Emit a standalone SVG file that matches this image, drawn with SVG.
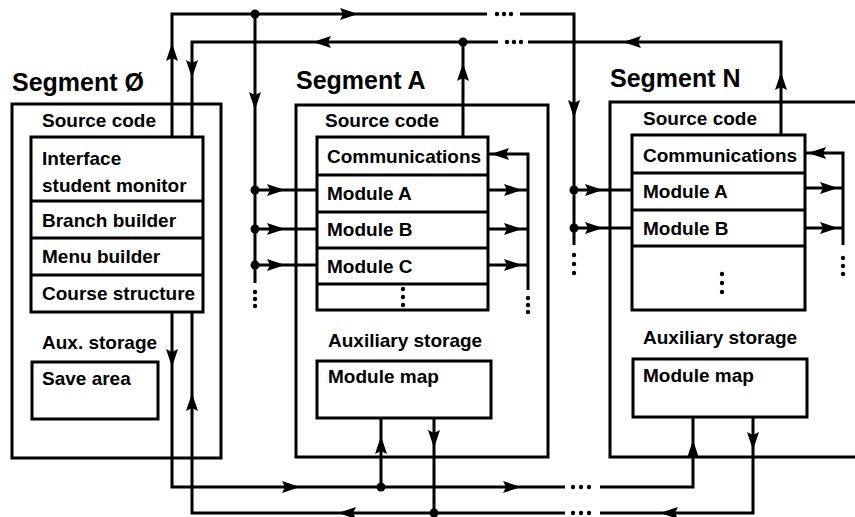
<svg xmlns="http://www.w3.org/2000/svg" xmlns:xlink="http://www.w3.org/1999/xlink" width="855" height="517" viewBox="0 0 855 517">
<style>
  .box{fill:#fff;stroke:#000;stroke-width:3}
  .frame{fill:none;stroke:#000;stroke-width:3}
  .ln{fill:none;stroke:#000;stroke-width:3}
  .t{font-family:"Liberation Sans",Arial,sans-serif;font-weight:bold;font-size:19px;fill:#000}
  .h{font-family:"Liberation Sans",Arial,sans-serif;font-weight:bold;font-size:25px;fill:#000}
</style>
<defs>
  <path id="ah" d="M0,0 L-18,-6 L-15,0 L-18,6 Z" fill="#000"/>
  <circle id="jd" r="4.5" fill="#000"/>
  <circle id="sd" r="2.2" fill="#000"/>
</defs>
<rect width="855" height="517" fill="#fff"/>

<g id="segment0">
  <rect class="frame" x="12" y="104" width="209" height="354"/>
  <text class="h" x="12" y="91">Segment Ø</text>
  <text class="t" x="42" y="127">Source code</text>
  <rect class="box" x="31" y="137" width="172" height="175"/>
  <path class="ln" d="M31,201 H203 M31,238 H203 M31,275 H203"/>
  <text class="t" x="42" y="165">Interface</text>
  <text class="t" x="42" y="192">student monitor</text>
  <text class="t" x="42" y="227">Branch builder</text>
  <text class="t" x="42" y="263">Menu builder</text>
  <text class="t" x="42" y="300">Course structure</text>
  <text class="t" x="42" y="349">Aux. storage</text>
  <g id="save-area">
    <rect class="box" x="32" y="362" width="126" height="57"/>
    <text class="t" x="42" y="385">Save area</text>
  </g>
</g>

<g id="segmentA">
  <rect class="frame" x="296" y="105" width="252" height="352"/>
  <text class="h" x="296" y="89">Segment A</text>
  <text class="t" x="325" y="127">Source code</text>
  <rect class="box" x="317" y="137" width="171" height="173"/>
  <path class="ln" d="M317,175 H488 M317,212 H488 M317,248 H488 M317,284 H488"/>
  <text class="t" x="327" y="163">Communications</text>
  <text class="t" x="327" y="200">Module A</text>
  <text class="t" x="327" y="236">Module B</text>
  <text class="t" x="327" y="273">Module C</text>
  <use href="#sd" x="403" y="289"/><use href="#sd" x="403" y="297"/><use href="#sd" x="403" y="305"/>
  <text class="t" x="328" y="347">Auxiliary storage</text>
  <g id="modmapA">
    <rect class="box" x="317" y="361" width="174" height="57"/>
    <text class="t" x="328" y="383">Module map</text>
  </g>
</g>

<g id="segmentN">
  <path class="frame" d="M855,102 H610 V457 H855"/>
  <text class="h" x="610" y="87">Segment N</text>
  <text class="t" x="643" y="125">Source code</text>
  <rect class="box" x="632" y="135" width="173" height="175"/>
  <path class="ln" d="M632,173 H805 M632,210 H805 M632,246 H805"/>
  <text class="t" x="643" y="162">Communications</text>
  <text class="t" x="643" y="198">Module A</text>
  <text class="t" x="643" y="235">Module B</text>
  <use href="#sd" x="722" y="274"/><use href="#sd" x="722" y="283"/><use href="#sd" x="722" y="292"/>
  <text class="t" x="643" y="344">Auxiliary storage</text>
  <g id="modmapN">
    <rect class="box" x="633" y="359" width="174" height="58"/>
    <text class="t" x="643" y="382">Module map</text>
  </g>
</g>

<g id="connectors">
  <path class="ln" d="M172,137 V14 H487 M520,14 H574 V245"/>
  <use href="#sd" x="497" y="14"/><use href="#sd" x="504" y="14"/><use href="#sd" x="511" y="14"/>
  <use href="#ah" transform="translate(172,43) rotate(-90)"/>
  <use href="#ah" transform="translate(358,14)"/>
  <use href="#ah" transform="translate(574,118) rotate(90)"/>
  <use href="#jd" x="255" y="14"/>

  <path class="ln" d="M192,137 V42 H498 M528,42 H781 V135"/>
  <use href="#sd" x="507" y="42"/><use href="#sd" x="514" y="42"/><use href="#sd" x="521" y="42"/>
  <use href="#ah" transform="translate(192,78) rotate(90)"/>
  <use href="#ah" transform="translate(313,42) rotate(180)"/>
  <use href="#ah" transform="translate(623,42) rotate(180)"/>
  <use href="#ah" transform="translate(781,72) rotate(-90)"/>
  <path class="ln" d="M463,137 V42"/>
  <use href="#ah" transform="translate(463,63) rotate(-90)"/>
  <use href="#jd" x="463" y="42"/>

  <path class="ln" d="M255,14 V283 M255,190 H317 M255,229 H317 M255,265 H317"/>
  <use href="#ah" transform="translate(255,110) rotate(90)"/>
  <use href="#jd" x="255" y="190"/><use href="#jd" x="255" y="229"/><use href="#jd" x="255" y="265"/>
  <use href="#ah" transform="translate(285,190)"/>
  <use href="#ah" transform="translate(285,229)"/>
  <use href="#ah" transform="translate(285,265)"/>
  <use href="#sd" x="255" y="292"/><use href="#sd" x="255" y="299"/><use href="#sd" x="255" y="306"/>

  <path class="ln" d="M488,154 H528 V290 M488,190 H528 M488,229 H528 M488,265 H528"/>
  <use href="#ah" transform="translate(491,154) rotate(180)"/>
  <use href="#ah" transform="translate(522,190)"/>
  <use href="#ah" transform="translate(522,229)"/>
  <use href="#ah" transform="translate(522,265)"/>
  <use href="#sd" x="528" y="298"/><use href="#sd" x="528" y="305"/><use href="#sd" x="528" y="312"/>

  <path class="ln" d="M574,190 H632 M574,228 H632"/>
  <use href="#jd" x="574" y="190"/><use href="#jd" x="574" y="228"/>
  <use href="#ah" transform="translate(603,190)"/>
  <use href="#ah" transform="translate(603,228)"/>
  <use href="#sd" x="574" y="255"/><use href="#sd" x="574" y="264"/><use href="#sd" x="574" y="273"/>

  <path class="ln" d="M805,153 H843 V245 M805,188 H843 M805,228 H843"/>
  <use href="#ah" transform="translate(808,153) rotate(180)"/>
  <use href="#ah" transform="translate(838,188)"/>
  <use href="#ah" transform="translate(838,228)"/>
  <use href="#sd" x="843" y="258"/><use href="#sd" x="843" y="266"/><use href="#sd" x="843" y="274"/>

  <path class="ln" d="M172,312 V487 H565 M600,487 H693 V417 M381,487 V418"/>
  <use href="#sd" x="573" y="487"/><use href="#sd" x="581" y="487"/><use href="#sd" x="589" y="487"/>
  <use href="#ah" transform="translate(172,367) rotate(90)"/>
  <use href="#ah" transform="translate(300,487)"/>
  <use href="#ah" transform="translate(521,487)"/>
  <use href="#ah" transform="translate(381,436) rotate(-90)"/>
  <use href="#ah" transform="translate(693,440) rotate(-90)"/>
  <use href="#jd" x="381" y="487"/>

  <path class="ln" d="M192,312 V513 H565 M600,513 H753 V417 M434,418 V513"/>
  <use href="#sd" x="573" y="513"/><use href="#sd" x="581" y="513"/><use href="#sd" x="589" y="513"/>
  <use href="#ah" transform="translate(192,393) rotate(-90)"/>
  <use href="#ah" transform="translate(338,513) rotate(180)"/>
  <use href="#ah" transform="translate(660,513) rotate(180)"/>
  <use href="#ah" transform="translate(434,448) rotate(90)"/>
  <use href="#ah" transform="translate(753,450) rotate(90)"/>
  <use href="#jd" x="434" y="513"/>
</g>
</svg>
